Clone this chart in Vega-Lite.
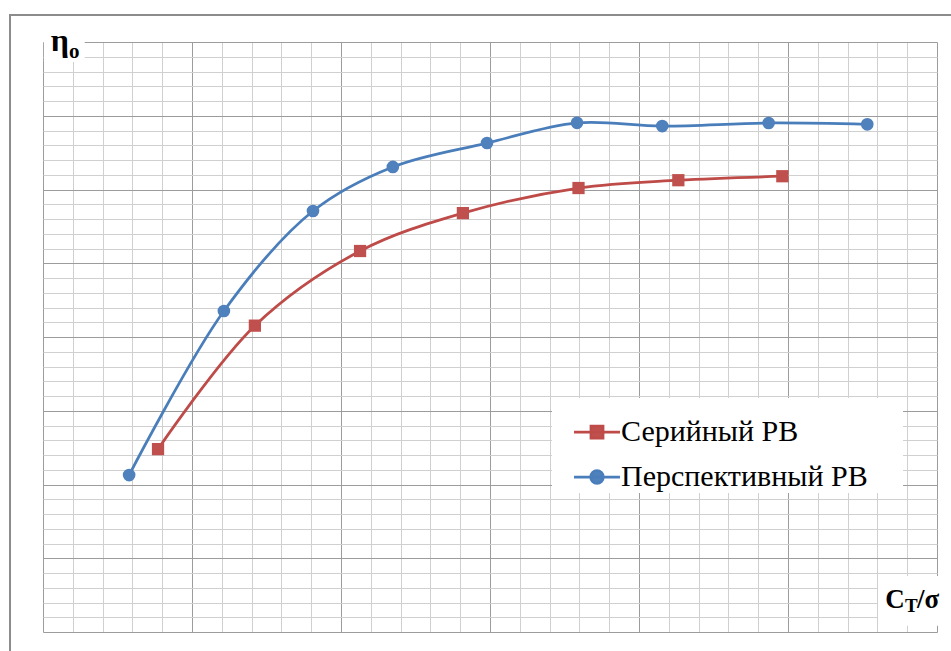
{
  "$schema": "https://vega.github.io/schema/vega-lite/v6.json",
  "width": 894,
  "height": 590,
  "autosize": {"type": "none"},
  "padding": {"left": 43, "top": 42, "right": 14, "bottom": 19},
  "background": "white",
  "config": {
    "view": {"stroke": null},
    "legend": {
      "labelFont": "Liberation Serif",
      "labelFontSize": 30,
      "labelColor": "black",
      "labelLimit": 500,
      "symbolSize": 144,
      "symbolStrokeWidth": 2.75
    }
  },
  "datasets": {
    "series": [
      {"s": "Перспективный РВ", "x": 2.89, "y": 10.64},
      {"s": "Перспективный РВ", "x": 6.07, "y": 21.76},
      {"s": "Перспективный РВ", "x": 9.06, "y": 28.54},
      {"s": "Перспективный РВ", "x": 11.74, "y": 31.53},
      {"s": "Перспективный РВ", "x": 14.9, "y": 33.15},
      {"s": "Перспективный РВ", "x": 17.92, "y": 34.52},
      {"s": "Перспективный РВ", "x": 20.78, "y": 34.3},
      {"s": "Перспективный РВ", "x": 24.35, "y": 34.51},
      {"s": "Перспективный РВ", "x": 27.66, "y": 34.42},
      {"s": "Серийный РВ", "x": 3.86, "y": 12.4},
      {"s": "Серийный РВ", "x": 7.11, "y": 20.77},
      {"s": "Серийный РВ", "x": 10.64, "y": 25.83},
      {"s": "Серийный РВ", "x": 14.09, "y": 28.4},
      {"s": "Серийный РВ", "x": 17.97, "y": 30.1},
      {"s": "Серийный РВ", "x": 21.32, "y": 30.63},
      {"s": "Серийный РВ", "x": 24.81, "y": 30.9}
    ]
  },
  "encoding": {
    "x": {
      "field": "x", "type": "quantitative",
      "scale": {"domain": [0, 30], "nice": false, "zero": false},
      "axis": {
        "values": [0,1,2,3,4,5,6,7,8,9,10,11,12,13,14,15,16,17,18,19,20,21,22,23,24,25,26,27,28,29,30],
        "tickCount": 200,
        "grid": true, "labels": false, "ticks": false, "domain": false, "title": null,
        "gridColor": {"condition": {"test": "datum.value % 5 === 0", "value": "#9c9c9c"}, "value": "#d0d0d0"},
        "gridWidth": 1
      }
    },
    "y": {
      "field": "y", "type": "quantitative",
      "scale": {"domain": [0, 40], "nice": false, "zero": false},
      "axis": {
        "values": [0,1,2,3,4,5,6,7,8,9,10,11,12,13,14,15,16,17,18,19,20,21,22,23,24,25,26,27,28,29,30,31,32,33,34,35,36,37,38,39,40],
        "tickCount": 200,
        "grid": true, "labels": false, "ticks": false, "domain": false, "title": null,
        "gridColor": {"condition": {"test": "datum.value % 5 === 0", "value": "#9c9c9c"}, "value": "#d0d0d0"},
        "gridWidth": 1
      }
    }
  },
  "layer": [
    {
      "data": {"values": [{"x": -1.107, "x2": 30.9, "y": 41.83, "y2": -2.5}]},
      "mark": {"type": "rect", "filled": false, "stroke": "#8c8c8c", "strokeWidth": 2},
      "encoding": {"x2": {"field": "x2"}, "y2": {"field": "y2"}}
    },
    {
      "data": {"values": [
        {"x": 0.03, "x2": 1.4, "y": 38.65, "y2": 40.8},
        {"x": 28.02, "x2": 30.6, "y": 0.42, "y2": 3.8},
        {"x": 17.08, "x2": 28.86, "y": 9.42, "y2": 15.86}
      ]},
      "mark": {"type": "rect", "fill": "white", "stroke": null},
      "encoding": {"x2": {"field": "x2"}, "y2": {"field": "y2"}}
    },
    {
      "data": {"name": "series"},
      "mark": {"type": "line", "interpolate": "catmull-rom", "strokeWidth": 2.75},
      "encoding": {
        "color": {
          "field": "s", "type": "nominal",
          "scale": {"domain": ["Серийный РВ", "Перспективный РВ"], "range": ["#BE4B48", "#4A7EBB"]},
          "legend": {
            "title": null,
            "orient": "none",
            "legendX": 539,
            "legendY": 375,
            "padding": 0,
            "labelFont": "Liberation Serif",
            "labelFontSize": 30,
            "labelColor": "black",
            "labelOffset": 9,
            "rowPadding": 15,
            "symbolSize": 144,
            "symbolStrokeWidth": 2.75,
            "encode": {
              "symbols": {
                "update": {
                  "shape": {"signal": "datum.value === 'Серийный РВ' ? 'M-3.83,0H3.83M-1,-1H1V1H-1Z' : 'M-3.83,0H3.83M1.05,0A1.05,1.05 0 1,1 -1.05,0A1.05,1.05 0 1,1 1.05,0Z'"},
                  "size": {"value": 144},
                  "stroke": {"signal": "datum.value === 'Серийный РВ' ? '#BE4B48' : '#4A7EBB'"},
                  "fill": {"signal": "datum.value === 'Серийный РВ' ? '#C0504D' : '#4F81BD'"},
                  "strokeWidth": {"value": 2.75},
                  "opacity": {"value": 1},
                  "fillOpacity": {"value": 1},
                  "strokeOpacity": {"value": 1}
                }
              },
              "labels": {
                "update": {
                  "font": {"value": "Liberation Serif"},
                  "fontSize": {"value": 30},
                  "fill": {"value": "black"}
                }
              }
            }
          }
        }
      }
    },
    {
      "data": {"name": "series"},
      "transform": [{"filter": "datum.s === 'Серийный РВ'"}],
      "mark": {"type": "point", "shape": "square", "filled": true, "size": 150, "opacity": 1, "color": "#C0504D"}
    },
    {
      "data": {"name": "series"},
      "transform": [{"filter": "datum.s === 'Перспективный РВ'"}],
      "mark": {"type": "point", "shape": "circle", "filled": true, "size": 160, "opacity": 1, "color": "#4F81BD"}
    },
    {
      "data": {"values": [{"x": 0.26, "y": 39.39, "t": "η"}]},
      "mark": {"type": "text", "font": "Liberation Serif", "fontWeight": "bold", "fontSize": 32, "align": "left", "baseline": "alphabetic", "color": "black"},
      "encoding": {"text": {"field": "t"}}
    },
    {
      "data": {"values": [{"x": 0.87, "y": 38.92, "t": "o"}]},
      "mark": {"type": "text", "font": "Liberation Serif", "fontWeight": "bold", "fontSize": 21, "align": "left", "baseline": "alphabetic", "color": "black"},
      "encoding": {"text": {"field": "t"}}
    },
    {
      "data": {"values": [{"x": 28.26, "y": 1.63, "t": "C"}, {"x": 29.33, "y": 1.63, "t": "/σ"}]},
      "mark": {"type": "text", "font": "Liberation Serif", "fontWeight": "bold", "fontSize": 27, "align": "left", "baseline": "alphabetic", "color": "black"},
      "encoding": {"text": {"field": "t"}}
    },
    {
      "data": {"values": [{"x": 28.93, "y": 1.36, "t": "T"}]},
      "mark": {"type": "text", "font": "Liberation Serif", "fontWeight": "bold", "fontSize": 19, "align": "left", "baseline": "alphabetic", "color": "black"},
      "encoding": {"text": {"field": "t"}}
    }
  ]
}
